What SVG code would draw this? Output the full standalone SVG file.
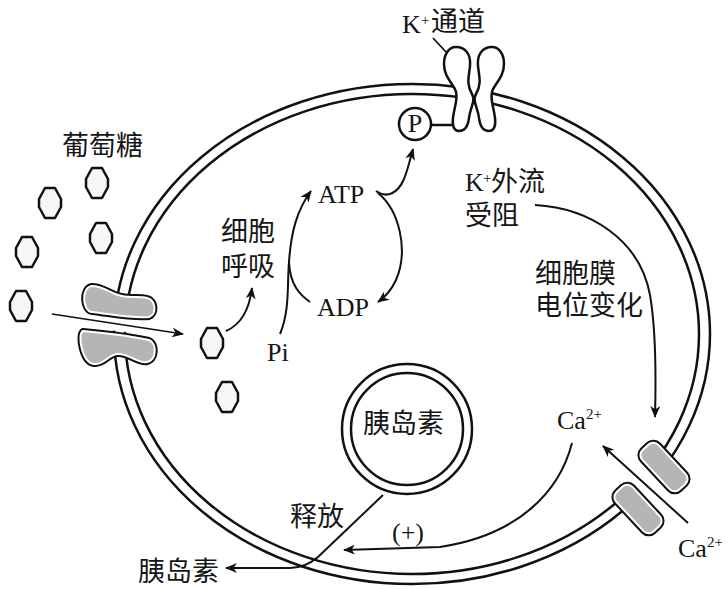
<svg xmlns="http://www.w3.org/2000/svg" xmlns:xlink="http://www.w3.org/1999/xlink" width="728" height="589" viewBox="0 0 728 589">
  <style>
    .mem { fill: none; stroke: #111; stroke-width: 2.5; }
    .conn { fill: none; stroke: #111; stroke-width: 2; }
    .thin { fill: none; stroke: #111; stroke-width: 1.6; }
    .cjk { font-family: "Noto Sans CJK SC", "Noto Sans", sans-serif; font-size: 27px; fill: #161616; }
    .lat { font-family: "Liberation Serif", serif; font-size: 26px; fill: #161616; }
    .sup { font-family: "Liberation Serif", serif; font-size: 15px; fill: #161616; }
    .edge { fill: #111; stroke: #111; stroke-width: 6; stroke-linejoin: round; }
    .gray { fill: #b5b5b5; stroke: #fff; stroke-width: 2; stroke-linejoin: round; }
    .kpart { fill: #fff; stroke: #111; stroke-width: 2.5; stroke-linejoin: round; }
    .hex { fill: #f6f6f6; stroke: #111; stroke-width: 2.5; stroke-linejoin: round; }
    .mask { fill: #fff; stroke: none; }
  </style>
  <defs>
    <marker id="ah" viewBox="0 0 12 10" refX="11" refY="5" markerWidth="12" markerHeight="10" markerUnits="userSpaceOnUse" orient="auto">
      <path d="M0,0 L12,5 L0,10 L3.5,5 Z" fill="#111"/>
    </marker>
    <polygon id="hexShape" class="hex" points="-5,-15 5,-15 11,-4 11,4 5,15 -5,15 -11,4 -11,-4"/>
  </defs>

  <rect width="728" height="589" fill="#fff"/>

  <!-- cell membrane: double line -->
  <g id="membrane">
    <ellipse class="mem" cx="412" cy="334" rx="298" ry="250"/>
    <ellipse class="mem" cx="412" cy="334" rx="287" ry="240"/>
  </g>

  <!-- glucose molecules -->
  <g id="glucose">
    <use xlink:href="#hexShape" href="#hexShape" x="97" y="183"/>
    <use xlink:href="#hexShape" href="#hexShape" x="50" y="203"/>
    <use xlink:href="#hexShape" href="#hexShape" x="101" y="238"/>
    <use xlink:href="#hexShape" href="#hexShape" x="27" y="252"/>
    <use xlink:href="#hexShape" href="#hexShape" x="21" y="306"/>
    <use xlink:href="#hexShape" href="#hexShape" x="212" y="343"/>
    <use xlink:href="#hexShape" href="#hexShape" x="227" y="397"/>
  </g>

  <!-- glucose transporter -->
  <g id="glucose-channel">
    <polygon class="mask" points="108,314 146,318 146,334 108,330"/>
    <path class="edge" d="M92,286 C104,286 110,294 122,296 C132,298 140,296 147,298 C156,300 157,314 149,317 C134,319 110,314 92,312 C82,311 81,287 92,286 Z"/>
    <path class="gray" d="M92,286 C104,286 110,294 122,296 C132,298 140,296 147,298 C156,300 157,314 149,317 C134,319 110,314 92,312 C82,311 81,287 92,286 Z"/>
    <path class="edge" d="M83,331 C105,333 130,336 149,340 C157,343 157,360 147,362 C138,364 130,354 118,354 C108,354 105,365 94,364 C82,363 77,334 83,331 Z"/>
    <path class="gray" d="M83,331 C105,333 130,336 149,340 C157,343 157,360 147,362 C138,364 130,354 118,354 C108,354 105,365 94,364 C82,363 77,334 83,331 Z"/>
  </g>

  <!-- K+ channel with phosphate -->
  <g id="k-channel">
    <polygon class="mask" points="466,78 482,78 482,106 466,106"/>
    <path class="kpart" d="M456,47 C466,47 471,55 470,66 C469,76 466,84 472,94 C476,101 470,108 469,118 C468,127 464,131 459,131 C454,131 452,126 453,118 C454,108 458,100 456,92 C454,84 444,78 444,64 C444,54 449,47 456,47 Z"/>
    <path class="kpart" d="M492,47 C482,47 477,55 478,66 C479,76 482,84 476,94 C472,101 478,108 479,118 C480,127 484,131 489,131 C494,131 496,126 495,118 C494,108 490,100 492,92 C494,84 504,78 504,64 C504,54 499,47 492,47 Z"/>
    <line x1="431" y1="125" x2="453" y2="125" stroke="#111" stroke-width="2.5"/>
    <line x1="433" y1="38" x2="446" y2="52" stroke="#111" stroke-width="1.8"/>
  </g>

  <g id="phosphate">
    <circle cx="415" cy="124" r="16" fill="#fff" stroke="#111" stroke-width="2.5"/>
    <text class="lat" x="415" y="132" font-size="22" text-anchor="middle">P</text>
  </g>

  <!-- Ca2+ channel -->
  <g id="ca-channel">
    <rect class="mask" x="631" y="474" width="40" height="28" transform="rotate(45 651 488)"/>
    <rect class="edge" x="637" y="456" width="54" height="22" rx="7" transform="rotate(47 664 467)"/>
    <rect class="gray" x="637" y="456" width="54" height="22" rx="7" transform="rotate(47 664 467)"/>
    <rect class="edge" x="611" y="498" width="54" height="22" rx="7" transform="rotate(47 638 509)"/>
    <rect class="gray" x="611" y="498" width="54" height="22" rx="7" transform="rotate(47 638 509)"/>
  </g>

  <!-- insulin vesicle -->
  <g id="vesicle">
    <circle cx="407" cy="429" r="65" fill="#fff" stroke="#111" stroke-width="2.5"/>
    <circle cx="407" cy="429" r="56" fill="none" stroke="#111" stroke-width="2.5"/>
    <text class="cjk" x="363" y="433">胰岛素</text>
  </g>

  <!-- connectors -->
  <g id="connectors">
    <path class="thin" d="M52,314 L183,334" marker-end="url(#ah)"/>
    <path class="conn" d="M226,331 C240,325 249,312 252,288" marker-end="url(#ah)"/>
    <path class="conn" d="M280,334 C290,310 287,285 289,262 C291,232 297,210 311,191" marker-end="url(#ah)"/>
    <path class="conn" d="M310,302 C300,295 290,285 289,262"/>
    <path class="conn" d="M378,193 C399,210 409,250 396,280 C391,291 385,297 378,302" marker-end="url(#ah)"/>
    <path class="conn" d="M376,191 C387,199 398,193 404,179 C408,169 410,160 413,149" marker-end="url(#ah)"/>
    <path class="conn" d="M535,205 C590,208 640,240 650,295 C656,330 656,380 655,417" marker-end="url(#ah)"/>
    <path class="conn" d="M688,523 L603,446" marker-end="url(#ah)"/>
    <path class="conn" d="M572,443 C560,490 520,535 440,547 L344,550" marker-end="url(#ah)"/>
    <path class="conn" d="M383,495 L318,557 Q305,568 290,568 L226,568" marker-end="url(#ah)"/>
  </g>

  <!-- labels -->
  <g id="label-k-channel">
    <text class="lat" x="402" y="33">K</text>
    <text class="sup" x="421" y="25">+</text>
    <text class="cjk" x="431" y="31" font-size="25">通道</text>
  </g>
  <g id="label-glucose">
    <text class="cjk" x="62" y="155">葡萄糖</text>
  </g>
  <g id="label-respiration">
    <text class="cjk" x="221" y="241">细胞</text>
    <text class="cjk" x="221" y="276">呼吸</text>
  </g>
  <g id="label-atp">
    <text class="lat" x="318" y="203">ATP</text>
  </g>
  <g id="label-adp">
    <text class="lat" x="317" y="316">ADP</text>
  </g>
  <g id="label-pi">
    <text class="lat" x="267" y="361">Pi</text>
  </g>
  <g id="label-k-efflux">
    <text class="lat" x="465" y="191">K</text>
    <text class="sup" x="483" y="183">+</text>
    <text class="cjk" x="491" y="191">外流</text>
    <text class="cjk" x="465" y="225">受阻</text>
  </g>
  <g id="label-potential">
    <text class="cjk" x="535" y="283">细胞膜</text>
    <text class="cjk" x="535" y="315">电位变化</text>
  </g>
  <g id="label-ca-inside">
    <text class="lat" x="557" y="429">Ca<tspan class="sup" dy="-10">2+</tspan></text>
  </g>
  <g id="label-ca-outside">
    <text class="lat" x="678" y="557">Ca<tspan class="sup" dy="-10">2+</tspan></text>
  </g>
  <g id="label-plus">
    <text class="lat" x="392" y="541">(+)</text>
  </g>
  <g id="label-release">
    <text class="cjk" x="290" y="526">释放</text>
  </g>
  <g id="label-insulin-out">
    <text class="cjk" x="138" y="581">胰岛素</text>
  </g>
</svg>
